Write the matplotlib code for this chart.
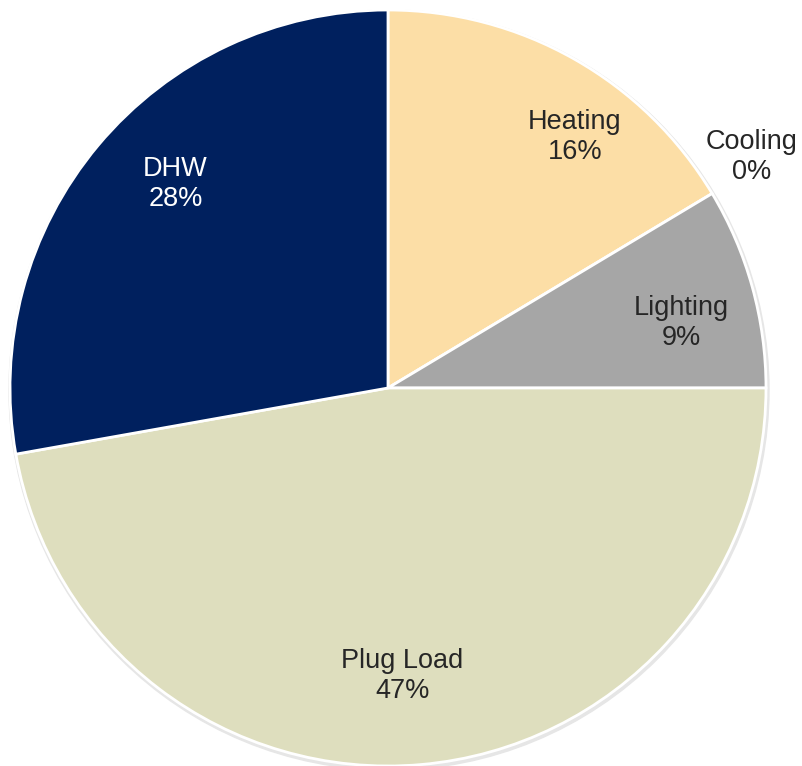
import numpy as np
import matplotlib.pyplot as plt

plt.rcParams['font.family'] = ['Liberation Sans', 'DejaVu Sans']

# Energy end-use breakdown
categories = ['Heating', 'Cooling', 'Lighting', 'Plug Load', 'DHW']
shares = [16.4, 0.0, 8.6, 47.2, 27.8]
pct_labels = ['16%', '0%', '9%', '47%', '28%']
colors = ['#FCDEA6', '#D9D9D9', '#A6A6A6', '#DEDEBE', '#00205E']
text_colors = ['#262626', '#262626', '#262626', '#262626', 'white']
# label placement (angle in degrees, distance as fraction of radius)
label_ang = [53.3, 32.4, 12.5, -87.2, 136.1]
label_r = [0.828, 1.14, 0.796, 0.763, 0.78]

fig = plt.figure(figsize=(8.02, 7.66), dpi=100)
ax = fig.add_axes([0, 0, 1, 1])

cx, cy, r = 388, 766 - 388, 378

# soft shadow ring
shadow = plt.Circle((cx + 1, cy - 2), r + 2, color='#E6E6E6', zorder=0)
ax.add_patch(shadow)

wedges, _ = ax.pie(shares, colors=colors, startangle=90, counterclock=False,
                   center=(cx, cy), radius=r, normalize=True,
                   wedgeprops=dict(edgecolor='white', linewidth=2))

for cat, pct, tc, la, lr in zip(categories, pct_labels, text_colors, label_ang, label_r):
    ang = np.deg2rad(la)
    x = cx + lr * r * np.cos(ang)
    y = cy + lr * r * np.sin(ang)
    ax.text(x, y, f'{cat}\n{pct}', ha='center', va='center', fontsize=19.5,
            color=tc, linespacing=1.2)

ax.set_xlim(0, 802)
ax.set_ylim(0, 766)
ax.set_aspect('equal')
ax.axis('off')

plt.savefig('out.png', dpi=100)
